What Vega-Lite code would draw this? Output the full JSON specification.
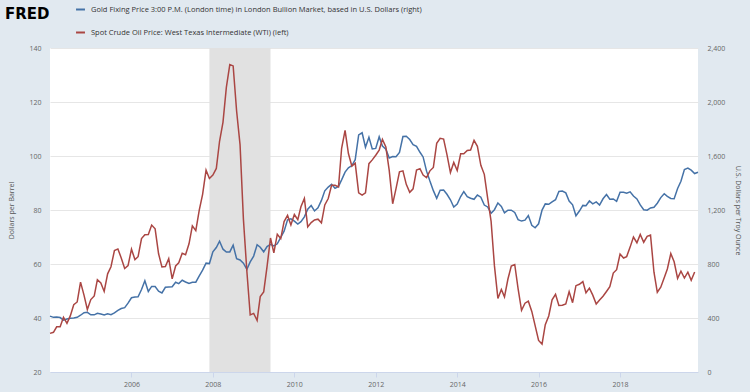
{
  "$schema": "https://vega.github.io/schema/vega-lite/v6.json",
  "width": 648,
  "height": 324,
  "autosize": {"type": "none"},
  "padding": {"left": 50, "top": 48, "right": 52, "bottom": 20},
  "background": "#e1e9f0",
  "config": {
    "view": {"fill": "#ffffff", "stroke": null},
    "font": "Open Sans",
    "legend": {"labelFont": "Open Sans"}
  },
  "title": {
    "text": "FRED",
    "font": "DejaVu Sans",
    "fontSize": 15,
    "fontWeight": "bold",
    "color": "#000000",
    "anchor": "start",
    "frame": "group",
    "dx": -45,
    "dy": 22,
    "offset": 4
  },
  "datasets": {
    "rec": [{"start": "2007-12-01", "end": "2009-06-01"}],
    "oil": [
      {"date":"2004-01-01","value":34.31},{"date":"2004-02-01","value":34.69},{"date":"2004-03-01","value":36.74},{"date":"2004-04-01","value":36.75},{"date":"2004-05-01","value":40.28},{"date":"2004-06-01","value":38.03},{"date":"2004-07-01","value":40.78},{"date":"2004-08-01","value":44.90},{"date":"2004-09-01","value":45.94},{"date":"2004-10-01","value":53.28},{"date":"2004-11-01","value":48.47},{"date":"2004-12-01","value":43.15},
      {"date":"2005-01-01","value":46.84},{"date":"2005-02-01","value":48.15},{"date":"2005-03-01","value":54.19},{"date":"2005-04-01","value":52.98},{"date":"2005-05-01","value":49.83},{"date":"2005-06-01","value":56.35},{"date":"2005-07-01","value":58.99},{"date":"2005-08-01","value":64.98},{"date":"2005-09-01","value":65.59},{"date":"2005-10-01","value":62.26},{"date":"2005-11-01","value":58.32},{"date":"2005-12-01","value":59.41},
      {"date":"2006-01-01","value":65.49},{"date":"2006-02-01","value":61.63},{"date":"2006-03-01","value":62.69},{"date":"2006-04-01","value":69.44},{"date":"2006-05-01","value":70.84},{"date":"2006-06-01","value":70.95},{"date":"2006-07-01","value":74.41},{"date":"2006-08-01","value":73.04},{"date":"2006-09-01","value":63.80},{"date":"2006-10-01","value":58.89},{"date":"2006-11-01","value":59.08},{"date":"2006-12-01","value":61.96},
      {"date":"2007-01-01","value":54.51},{"date":"2007-02-01","value":59.28},{"date":"2007-03-01","value":60.44},{"date":"2007-04-01","value":63.98},{"date":"2007-05-01","value":63.46},{"date":"2007-06-01","value":67.49},{"date":"2007-07-01","value":74.12},{"date":"2007-08-01","value":72.36},{"date":"2007-09-01","value":79.92},{"date":"2007-10-01","value":85.80},{"date":"2007-11-01","value":94.77},{"date":"2007-12-01","value":91.69},
      {"date":"2008-01-01","value":92.97},{"date":"2008-02-01","value":95.39},{"date":"2008-03-01","value":105.45},{"date":"2008-04-01","value":112.58},{"date":"2008-05-01","value":125.40},{"date":"2008-06-01","value":133.88},{"date":"2008-07-01","value":133.37},{"date":"2008-08-01","value":116.67},{"date":"2008-09-01","value":104.11},{"date":"2008-10-01","value":76.61},{"date":"2008-11-01","value":57.31},{"date":"2008-12-01","value":41.12},
      {"date":"2009-01-01","value":41.71},{"date":"2009-02-01","value":39.09},{"date":"2009-03-01","value":47.94},{"date":"2009-04-01","value":49.65},{"date":"2009-05-01","value":59.03},{"date":"2009-06-01","value":69.64},{"date":"2009-07-01","value":64.15},{"date":"2009-08-01","value":71.05},{"date":"2009-09-01","value":69.41},{"date":"2009-10-01","value":75.72},{"date":"2009-11-01","value":77.99},{"date":"2009-12-01","value":74.47},
      {"date":"2010-01-01","value":78.33},{"date":"2010-02-01","value":76.39},{"date":"2010-03-01","value":81.20},{"date":"2010-04-01","value":84.29},{"date":"2010-05-01","value":73.74},{"date":"2010-06-01","value":75.34},{"date":"2010-07-01","value":76.32},{"date":"2010-08-01","value":76.60},{"date":"2010-09-01","value":75.24},{"date":"2010-10-01","value":81.89},{"date":"2010-11-01","value":84.25},{"date":"2010-12-01","value":89.15},
      {"date":"2011-01-01","value":89.17},{"date":"2011-02-01","value":88.58},{"date":"2011-03-01","value":102.86},{"date":"2011-04-01","value":109.53},{"date":"2011-05-01","value":100.90},{"date":"2011-06-01","value":96.26},{"date":"2011-07-01","value":97.30},{"date":"2011-08-01","value":86.33},{"date":"2011-09-01","value":85.52},{"date":"2011-10-01","value":86.32},{"date":"2011-11-01","value":97.16},{"date":"2011-12-01","value":98.56},
      {"date":"2012-01-01","value":100.27},{"date":"2012-02-01","value":102.20},{"date":"2012-03-01","value":106.16},{"date":"2012-04-01","value":103.32},{"date":"2012-05-01","value":94.66},{"date":"2012-06-01","value":82.30},{"date":"2012-07-01","value":87.90},{"date":"2012-08-01","value":94.13},{"date":"2012-09-01","value":94.51},{"date":"2012-10-01","value":89.49},{"date":"2012-11-01","value":86.53},{"date":"2012-12-01","value":87.86},
      {"date":"2013-01-01","value":94.76},{"date":"2013-02-01","value":95.31},{"date":"2013-03-01","value":92.94},{"date":"2013-04-01","value":92.02},{"date":"2013-05-01","value":94.51},{"date":"2013-06-01","value":95.77},{"date":"2013-07-01","value":104.67},{"date":"2013-08-01","value":106.57},{"date":"2013-09-01","value":106.29},{"date":"2013-10-01","value":100.54},{"date":"2013-11-01","value":93.86},{"date":"2013-12-01","value":97.63},
      {"date":"2014-01-01","value":94.62},{"date":"2014-02-01","value":100.82},{"date":"2014-03-01","value":100.80},{"date":"2014-04-01","value":102.07},{"date":"2014-05-01","value":102.18},{"date":"2014-06-01","value":105.79},{"date":"2014-07-01","value":103.59},{"date":"2014-08-01","value":96.54},{"date":"2014-09-01","value":93.21},{"date":"2014-10-01","value":84.40},{"date":"2014-11-01","value":75.79},{"date":"2014-12-01","value":59.29},
      {"date":"2015-01-01","value":47.22},{"date":"2015-02-01","value":50.58},{"date":"2015-03-01","value":47.82},{"date":"2015-04-01","value":54.45},{"date":"2015-05-01","value":59.27},{"date":"2015-06-01","value":59.82},{"date":"2015-07-01","value":50.90},{"date":"2015-08-01","value":42.87},{"date":"2015-09-01","value":45.48},{"date":"2015-10-01","value":46.22},{"date":"2015-11-01","value":42.44},{"date":"2015-12-01","value":37.19},
      {"date":"2016-01-01","value":31.68},{"date":"2016-02-01","value":30.32},{"date":"2016-03-01","value":37.55},{"date":"2016-04-01","value":40.75},{"date":"2016-05-01","value":46.71},{"date":"2016-06-01","value":48.76},{"date":"2016-07-01","value":44.65},{"date":"2016-08-01","value":44.72},{"date":"2016-09-01","value":45.18},{"date":"2016-10-01","value":49.78},{"date":"2016-11-01","value":45.66},{"date":"2016-12-01","value":51.97},
      {"date":"2017-01-01","value":52.50},{"date":"2017-02-01","value":53.47},{"date":"2017-03-01","value":49.33},{"date":"2017-04-01","value":51.06},{"date":"2017-05-01","value":48.48},{"date":"2017-06-01","value":45.18},{"date":"2017-07-01","value":46.63},{"date":"2017-08-01","value":48.04},{"date":"2017-09-01","value":49.82},{"date":"2017-10-01","value":51.58},{"date":"2017-11-01","value":56.64},{"date":"2017-12-01","value":57.88},
      {"date":"2018-01-01","value":63.70},{"date":"2018-02-01","value":62.23},{"date":"2018-03-01","value":62.73},{"date":"2018-04-01","value":66.25},{"date":"2018-05-01","value":69.98},{"date":"2018-06-01","value":67.87},{"date":"2018-07-01","value":70.98},{"date":"2018-08-01","value":68.06},{"date":"2018-09-01","value":70.23},{"date":"2018-10-01","value":70.75},{"date":"2018-11-01","value":56.96},{"date":"2018-12-01","value":49.52},
      {"date":"2019-01-01","value":51.38},{"date":"2019-02-01","value":54.95},{"date":"2019-03-01","value":58.15},{"date":"2019-04-01","value":63.86},{"date":"2019-05-01","value":60.83},{"date":"2019-06-01","value":54.66},{"date":"2019-07-01","value":57.35},{"date":"2019-08-01","value":54.81},{"date":"2019-09-01","value":56.95},{"date":"2019-10-01","value":53.96},{"date":"2019-11-01","value":57.03}
    ],
    "gold": [
      {"date":"2004-01-01","value":413.8},{"date":"2004-02-01","value":404.9},{"date":"2004-03-01","value":406.7},{"date":"2004-04-01","value":403.3},{"date":"2004-05-01","value":383.8},{"date":"2004-06-01","value":392.4},{"date":"2004-07-01","value":398.1},{"date":"2004-08-01","value":400.5},{"date":"2004-09-01","value":405.3},{"date":"2004-10-01","value":420.5},{"date":"2004-11-01","value":439.4},{"date":"2004-12-01","value":442.1},
      {"date":"2005-01-01","value":424.0},{"date":"2005-02-01","value":423.4},{"date":"2005-03-01","value":434.2},{"date":"2005-04-01","value":428.9},{"date":"2005-05-01","value":421.9},{"date":"2005-06-01","value":430.7},{"date":"2005-07-01","value":424.5},{"date":"2005-08-01","value":437.9},{"date":"2005-09-01","value":456.0},{"date":"2005-10-01","value":469.9},{"date":"2005-11-01","value":476.7},{"date":"2005-12-01","value":509.8},
      {"date":"2006-01-01","value":549.9},{"date":"2006-02-01","value":555.0},{"date":"2006-03-01","value":557.1},{"date":"2006-04-01","value":610.6},{"date":"2006-05-01","value":676.5},{"date":"2006-06-01","value":596.2},{"date":"2006-07-01","value":633.7},{"date":"2006-08-01","value":632.6},{"date":"2006-09-01","value":598.2},{"date":"2006-10-01","value":585.8},{"date":"2006-11-01","value":627.8},{"date":"2006-12-01","value":629.8},
      {"date":"2007-01-01","value":631.2},{"date":"2007-02-01","value":664.8},{"date":"2007-03-01","value":654.9},{"date":"2007-04-01","value":679.4},{"date":"2007-05-01","value":666.9},{"date":"2007-06-01","value":655.5},{"date":"2007-07-01","value":665.3},{"date":"2007-08-01","value":665.4},{"date":"2007-09-01","value":712.7},{"date":"2007-10-01","value":754.6},{"date":"2007-11-01","value":806.3},{"date":"2007-12-01","value":803.2},
      {"date":"2008-01-01","value":889.6},{"date":"2008-02-01","value":922.3},{"date":"2008-03-01","value":968.4},{"date":"2008-04-01","value":909.7},{"date":"2008-05-01","value":888.7},{"date":"2008-06-01","value":889.5},{"date":"2008-07-01","value":939.8},{"date":"2008-08-01","value":839.0},{"date":"2008-09-01","value":829.9},{"date":"2008-10-01","value":806.6},{"date":"2008-11-01","value":760.9},{"date":"2008-12-01","value":816.1},
      {"date":"2009-01-01","value":858.7},{"date":"2009-02-01","value":943.2},{"date":"2009-03-01","value":924.3},{"date":"2009-04-01","value":890.2},{"date":"2009-05-01","value":928.6},{"date":"2009-06-01","value":945.7},{"date":"2009-07-01","value":934.2},{"date":"2009-08-01","value":949.4},{"date":"2009-09-01","value":996.6},{"date":"2009-10-01","value":1043.2},{"date":"2009-11-01","value":1127.0},{"date":"2009-12-01","value":1134.7},
      {"date":"2010-01-01","value":1117.9},{"date":"2010-02-01","value":1095.4},{"date":"2010-03-01","value":1113.3},{"date":"2010-04-01","value":1148.7},{"date":"2010-05-01","value":1205.4},{"date":"2010-06-01","value":1232.9},{"date":"2010-07-01","value":1193.0},{"date":"2010-08-01","value":1215.8},{"date":"2010-09-01","value":1271.0},{"date":"2010-10-01","value":1342.0},{"date":"2010-11-01","value":1369.9},{"date":"2010-12-01","value":1391.0},
      {"date":"2011-01-01","value":1360.5},{"date":"2011-02-01","value":1374.7},{"date":"2011-03-01","value":1423.3},{"date":"2011-04-01","value":1480.9},{"date":"2011-05-01","value":1512.6},{"date":"2011-06-01","value":1529.0},{"date":"2011-07-01","value":1572.8},{"date":"2011-08-01","value":1755.8},{"date":"2011-09-01","value":1771.9},{"date":"2011-10-01","value":1665.2},{"date":"2011-11-01","value":1738.9},{"date":"2011-12-01","value":1652.2},
      {"date":"2012-01-01","value":1656.1},{"date":"2012-02-01","value":1742.6},{"date":"2012-03-01","value":1673.8},{"date":"2012-04-01","value":1650.1},{"date":"2012-05-01","value":1585.5},{"date":"2012-06-01","value":1596.7},{"date":"2012-07-01","value":1593.9},{"date":"2012-08-01","value":1626.0},{"date":"2012-09-01","value":1744.5},{"date":"2012-10-01","value":1746.6},{"date":"2012-11-01","value":1721.6},{"date":"2012-12-01","value":1684.8},
      {"date":"2013-01-01","value":1671.9},{"date":"2013-02-01","value":1627.6},{"date":"2013-03-01","value":1593.1},{"date":"2013-04-01","value":1487.9},{"date":"2013-05-01","value":1414.0},{"date":"2013-06-01","value":1343.4},{"date":"2013-07-01","value":1286.7},{"date":"2013-08-01","value":1347.1},{"date":"2013-09-01","value":1348.6},{"date":"2013-10-01","value":1316.6},{"date":"2013-11-01","value":1275.8},{"date":"2013-12-01","value":1221.5},
      {"date":"2014-01-01","value":1244.3},{"date":"2014-02-01","value":1299.6},{"date":"2014-03-01","value":1336.1},{"date":"2014-04-01","value":1299.0},{"date":"2014-05-01","value":1287.5},{"date":"2014-06-01","value":1279.1},{"date":"2014-07-01","value":1310.6},{"date":"2014-08-01","value":1295.1},{"date":"2014-09-01","value":1236.6},{"date":"2014-10-01","value":1222.5},{"date":"2014-11-01","value":1176.3},{"date":"2014-12-01","value":1202.3},
      {"date":"2015-01-01","value":1251.8},{"date":"2015-02-01","value":1227.1},{"date":"2015-03-01","value":1178.6},{"date":"2015-04-01","value":1198.9},{"date":"2015-05-01","value":1198.6},{"date":"2015-06-01","value":1181.5},{"date":"2015-07-01","value":1128.3},{"date":"2015-08-01","value":1117.9},{"date":"2015-09-01","value":1124.5},{"date":"2015-10-01","value":1159.3},{"date":"2015-11-01","value":1086.4},{"date":"2015-12-01","value":1068.3},
      {"date":"2016-01-01","value":1097.9},{"date":"2016-02-01","value":1199.5},{"date":"2016-03-01","value":1245.1},{"date":"2016-04-01","value":1242.3},{"date":"2016-05-01","value":1260.9},{"date":"2016-06-01","value":1276.4},{"date":"2016-07-01","value":1337.4},{"date":"2016-08-01","value":1340.2},{"date":"2016-09-01","value":1326.6},{"date":"2016-10-01","value":1266.2},{"date":"2016-11-01","value":1238.4},{"date":"2016-12-01","value":1157.4},
      {"date":"2017-01-01","value":1192.1},{"date":"2017-02-01","value":1234.2},{"date":"2017-03-01","value":1231.1},{"date":"2017-04-01","value":1266.9},{"date":"2017-05-01","value":1246.0},{"date":"2017-06-01","value":1260.3},{"date":"2017-07-01","value":1236.8},{"date":"2017-08-01","value":1283.0},{"date":"2017-09-01","value":1314.1},{"date":"2017-10-01","value":1279.5},{"date":"2017-11-01","value":1281.9},{"date":"2017-12-01","value":1264.5},
      {"date":"2018-01-01","value":1331.3},{"date":"2018-02-01","value":1330.7},{"date":"2018-03-01","value":1324.7},{"date":"2018-04-01","value":1334.8},{"date":"2018-05-01","value":1303.5},{"date":"2018-06-01","value":1282.3},{"date":"2018-07-01","value":1237.7},{"date":"2018-08-01","value":1201.7},{"date":"2018-09-01","value":1198.4},{"date":"2018-10-01","value":1215.4},{"date":"2018-11-01","value":1220.7},{"date":"2018-12-01","value":1250.4},
      {"date":"2019-01-01","value":1291.8},{"date":"2019-02-01","value":1320.1},{"date":"2019-03-01","value":1300.9},{"date":"2019-04-01","value":1285.9},{"date":"2019-05-01","value":1283.7},{"date":"2019-06-01","value":1359.0},{"date":"2019-07-01","value":1412.9},{"date":"2019-08-01","value":1500.4},{"date":"2019-09-01","value":1510.6},{"date":"2019-10-01","value":1494.8},{"date":"2019-11-01","value":1470.0},{"date":"2019-12-01","value":1479.1}
    ]
  },
  "layer": [
    {
      "data": {"name": "rec"},
      "mark": {"type": "rect", "color": "#e1e1e1"},
      "encoding": {
        "x": {
          "field": "start",
          "type": "temporal",
          "scale": {"domain": [{"year": 2004, "month": 1, "date": 1}, {"year": 2019, "month": 12, "date": 1}]},
          "axis": {
            "title": null,
            "values": [{"year": 2006}, {"year": 2008}, {"year": 2010}, {"year": 2012}, {"year": 2014}, {"year": 2016}, {"year": 2018}],
            "format": "%Y",
            "grid": false,
            "domainColor": "#ccd6eb",
            "tickColor": "#ccd6eb",
            "tickSize": 5,
            "labelFont": "Open Sans",
            "labelFontSize": 7,
            "labelColor": "#666666",
            "labelPadding": 3
          }
        },
        "x2": {"field": "end"}
      }
    },
    {
      "data": {"name": "gold"},
      "mark": {"type": "line", "strokeWidth": 1.5},
      "encoding": {
        "x": {"field": "date", "type": "temporal"},
        "y": {
          "field": "value",
          "type": "quantitative",
          "scale": {"domain": [0, 2400], "nice": false, "zero": false},
          "axis": {
            "orient": "right",
            "title": "U.S. Dollars per Troy Ounce",
            "values": [0, 400, 800, 1200, 1600, 2000, 2400],
            "format": ",.0f",
            "grid": false,
            "domain": false,
            "ticks": false,
            "labelFont": "Open Sans",
            "labelFontSize": 7,
            "labelColor": "#666666",
            "labelPadding": 9,
            "titleFont": "Open Sans",
            "titleFontSize": 7,
            "titleFontWeight": "normal",
            "titleColor": "#555555",
            "titlePadding": 10
          }
        },
        "color": {
          "datum": "Gold Fixing Price 3:00 P.M. (London time) in London Bullion Market, based in U.S. Dollars (right)",
          "type": "nominal",
          "scale": {
            "domain": ["Gold Fixing Price 3:00 P.M. (London time) in London Bullion Market, based in U.S. Dollars (right)", "Spot Crude Oil Price: West Texas Intermediate (WTI) (left)"],
            "range": ["#4572a7", "#aa4643"]
          },
          "legend": {
            "orient": "none",
            "legendX": 25,
            "legendY": -44,
            "direction": "vertical",
            "title": null,
            "symbolType": "stroke",
            "symbolSize": 80,
            "symbolStrokeWidth": 2,
            "labelFont": "Open Sans",
            "labelFontSize": 7.5,
            "labelColor": "#333333",
            "labelLimit": 0,
            "labelOffset": 5,
            "rowPadding": 13
          }
        }
      }
    },
    {
      "data": {"name": "oil"},
      "mark": {"type": "line", "strokeWidth": 1.5},
      "encoding": {
        "x": {"field": "date", "type": "temporal"},
        "y": {
          "field": "value",
          "type": "quantitative",
          "scale": {"domain": [20, 140], "nice": false, "zero": false},
          "axis": {
            "orient": "left",
            "title": "Dollars per Barrel",
            "values": [20, 40, 60, 80, 100, 120, 140],
            "grid": true,
            "gridColor": "#e6e6e6",
            "domain": false,
            "ticks": false,
            "labelFont": "Open Sans",
            "labelFontSize": 7,
            "labelColor": "#666666",
            "labelPadding": 9,
            "titleFont": "Open Sans",
            "titleFontSize": 7,
            "titleFontWeight": "normal",
            "titleColor": "#555555",
            "titlePadding": 14
          }
        },
        "color": {
          "datum": "Spot Crude Oil Price: West Texas Intermediate (WTI) (left)",
          "type": "nominal"
        }
      }
    }
  ],
  "resolve": {"scale": {"y": "independent"}}
}
